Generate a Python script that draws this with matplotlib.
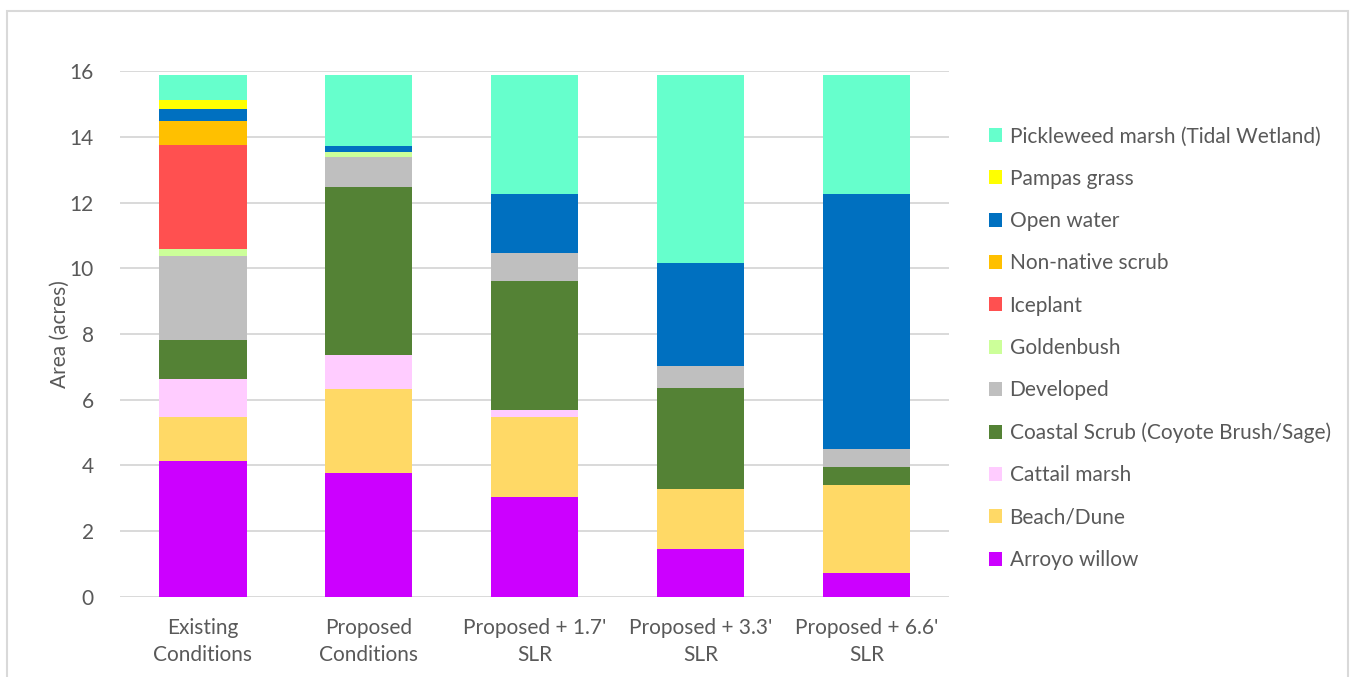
import matplotlib
matplotlib.use("Agg")
import matplotlib.pyplot as plt
from matplotlib.patches import Rectangle, Patch
import numpy as np

plt.rcParams['font.family'] = ['Lato', 'DejaVu Sans']

categories = ["Existing\nConditions", "Proposed\nConditions", "Proposed + 1.7'\nSLR",
              "Proposed + 3.3'\nSLR", "Proposed + 6.6'\nSLR"]

# Habitat areas (acres), listed bottom-to-top in the stack
arroyo_willow   = [4.14, 3.77, 3.03, 1.46, 0.72]
beach_dune      = [1.35, 2.55, 2.46, 1.83, 2.68]
cattail_marsh   = [1.14, 1.04, 0.21, 0.00, 0.00]
coastal_scrub   = [1.20, 5.12, 3.90, 3.08, 0.56]
developed       = [2.53, 0.91, 0.87, 0.66, 0.55]
goldenbush      = [0.22, 0.16, 0.00, 0.00, 0.00]
iceplant        = [3.18, 0.00, 0.00, 0.00, 0.00]
non_native      = [0.71, 0.00, 0.00, 0.00, 0.00]
open_water      = [0.36, 0.18, 1.80, 3.13, 7.76]
pampas_grass    = [0.30, 0.00, 0.00, 0.00, 0.00]
pickleweed      = [0.76, 2.16, 3.62, 5.73, 3.62]

series = [
    ("Arroyo willow", arroyo_willow, "#CC00FF"),
    ("Beach/Dune", beach_dune, "#FFD966"),
    ("Cattail marsh", cattail_marsh, "#FFCCFF"),
    ("Coastal Scrub (Coyote Brush/Sage)", coastal_scrub, "#548235"),
    ("Developed", developed, "#BFBFBF"),
    ("Goldenbush", goldenbush, "#CCFF99"),
    ("Iceplant", iceplant, "#FF5050"),
    ("Non-native scrub", non_native, "#FFC000"),
    ("Open water", open_water, "#0070C0"),
    ("Pampas grass", pampas_grass, "#FFFF00"),
    ("Pickleweed marsh (Tidal Wetland)", pickleweed, "#66FFCC"),
]

text_color = "#595959"
grid_color = "#D9D9D9"

fig = plt.figure(figsize=(13.55, 6.77), dpi=100)
ax = fig.add_axes([0.0886, 0.1182, 0.6121, 0.7769])

x = np.arange(len(categories))
bottom = np.zeros(len(categories))
handles = []
for name, vals, color in series:
    vals = np.array(vals)
    ax.bar(x, vals, width=0.525, bottom=bottom, color=color, zorder=3, linewidth=0)
    bottom += vals
    handles.append(Patch(facecolor=color, label=name))

ax.set_xlim(-0.5, len(categories) - 0.5)
ax.set_ylim(0, 16)
ax.set_yticks(np.arange(0, 17, 2))
ax.yaxis.grid(True, color=grid_color, linewidth=1.4, zorder=0)
ax.set_axisbelow(True)
for s in ax.spines.values():
    s.set_visible(False)
ax.tick_params(axis='both', length=0, colors=text_color, labelsize=15)
ax.tick_params(axis='x', pad=15)
ax.tick_params(axis='y', pad=19)
ax.set_xticks(x)
ax.set_xticklabels(categories, linespacing=1.45)
ax.set_ylabel("Area (acres)", color=text_color, fontsize=15, labelpad=0)

leg = ax.legend(handles=handles[::-1], loc='upper left', bbox_to_anchor=(0.7235, 0.8255),
                bbox_transform=fig.transFigure, frameon=False, fontsize=15,
                handlelength=0.65, handleheight=0.65, handletextpad=0.35,
                labelspacing=1.07, borderaxespad=0)
for t in leg.get_texts():
    t.set_color(text_color)

fig.patches.append(Rectangle((0.0052, -0.05), 0.9896, 0.9888 + 0.05 - 0.005,
                             transform=fig.transFigure, fill=False,
                             edgecolor=grid_color, linewidth=1.5))

fig.savefig("out.png", dpi=100, facecolor="white")
